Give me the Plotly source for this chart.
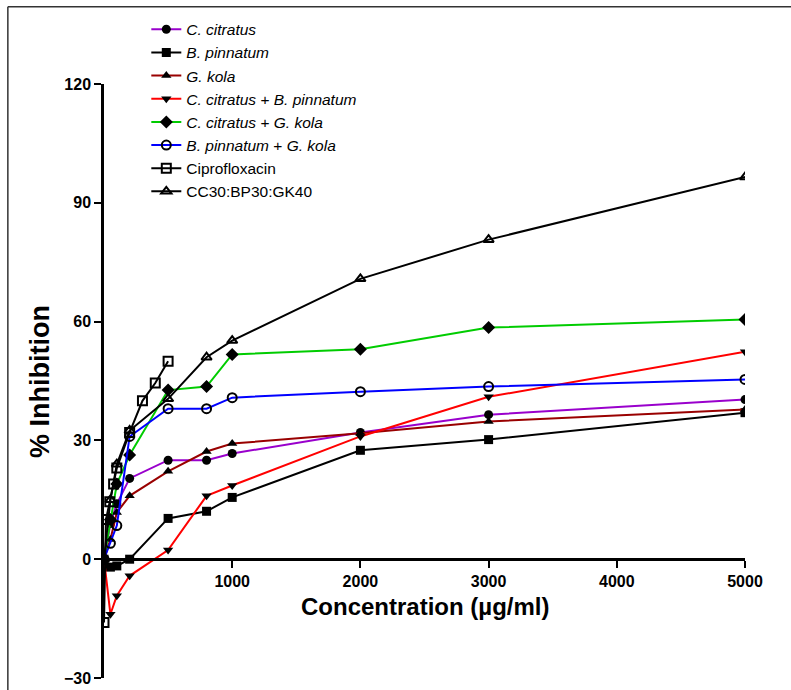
import plotly.graph_objects as go

# concentrations (µg/ml)
conc = [0, 50, 100, 200, 500, 800, 1000, 2000, 3000, 5000]
cipro_conc = [0, 15, 45, 75, 100, 200, 300, 400, 500]

# % inhibition values
c_citratus = [0, 9, 14, 20.4, 25, 25, 26.7, 32, 36.5, 40.3]
b_pinnatum = [0, -2, -1.7, 0, 10.3, 12.1, 15.6, 27.5, 30.2, 37]
g_kola = [0, 5, 11.8, 16, 22.2, 27.2, 29.2, 31.8, 34.8, 37.8]
cc_bp = [0, -13.9, -9.2, -4.2, 2.3, 16, 18.6, 31, 41, 52.4]
cc_gk = [0, 10, 19, 26.3, 42.7, 43.6, 51.7, 53, 58.5, 60.5]
bp_gk = [0, 4, 8.5, 31, 38, 38, 40.8, 42.3, 43.6, 45.4]
cipro = [-16, 10, 14.5, 19, 23, 32, 40, 44.5, 50]
cc_bp_gk = [0, 15, 24, 32.5, 40.5, 51, 55.2, 70.8, 80.7, 96.5]

series = [
    ("<i>C. citratus</i>", conc, c_citratus, "#9900CC", "circle"),
    ("<i>B. pinnatum</i>", conc, b_pinnatum, "#000000", "square"),
    ("<i>G. kola</i>", conc, g_kola, "#990000", "triangle-up"),
    ("<i>C. citratus</i> + <i>B. pinnatum</i>", conc, cc_bp, "#FF0000", "triangle-down"),
    ("<i>C. citratus</i> + <i>G. kola</i>", conc, cc_gk, "#00CC00", "diamond"),
    ("<i>B. pinnatum</i> + <i>G. kola</i>", conc, bp_gk, "#0000FF", "circle-open"),
    ("Ciprofloxacin", cipro_conc, cipro, "#000000", "square-open"),
    ("CC30:BP30:GK40", conc, cc_bp_gk, "#000000", "triangle-up-open"),
]

fig = go.Figure()
for name, xs, ys, col, sym in series:
    open_ = sym.endswith("open")
    fig.add_trace(go.Scatter(
        x=xs, y=ys, name=name, mode="lines+markers",
        line=dict(color=col, width=2),
        marker=dict(symbol=sym, color="#000000", size=9 if not sym.startswith("diamond") else 10,
                    line=dict(color="#000000", width=2 if open_ else 0)),
    ))

font = "Liberation Sans, Arial, sans-serif"
fig.update_layout(
    width=791, height=690,
    margin=dict(l=104, r=46, t=84, b=12, autoexpand=False),
    plot_bgcolor="white", paper_bgcolor="white",
    font=dict(family=font, color="black"),
    showlegend=True,
    legend=dict(x=0.066, y=1.12, xanchor="left", yanchor="top",
                font=dict(size=15.5, family=font), tracegroupgap=0,
                itemwidth=30, bgcolor="rgba(0,0,0,0)"),
    xaxis=dict(range=[0, 5000], tickvals=[1000, 2000, 3000, 4000, 5000],
               showgrid=False, zeroline=False, showline=True, linewidth=2.5,
               linecolor="black", ticks="outside", ticklen=7, tickwidth=2,
               tickcolor="black", anchor="free", position=0.2, automargin=False,
               tickfont=dict(size=16, family=font, weight="bold")),
    yaxis=dict(range=[-30, 120], tickvals=[-30, 0, 30, 60, 90, 120],
               showgrid=False, zeroline=False, showline=True, linewidth=2.5,
               linecolor="black", ticks="outside", ticklen=7, tickwidth=2,
               tickcolor="black", automargin=False,
               tickfont=dict(size=16, family=font, weight="bold")),
)

fig.add_annotation(text="<b>% Inhibition</b>", textangle=-90, xref="paper", yref="paper",
                   x=-0.1, y=0.5, xanchor="center", yanchor="middle", showarrow=False,
                   font=dict(size=27, family=font))
fig.add_annotation(text="<b>Concentration (µg/ml)</b>", xref="paper", yref="paper",
                   x=0.5, y=0.12, xanchor="center", yanchor="middle", showarrow=False,
                   font=dict(size=24, family=font))

# outer frame lines (top and left)
fig.add_shape(type="line", xref="paper", yref="paper", x0=-0.15, x1=1.08, y0=1.13, y1=1.13,
              line=dict(color="#333333", width=1.5))
fig.add_shape(type="line", xref="paper", yref="paper", x0=-0.15, x1=-0.15, y0=1.13, y1=-0.03,
              line=dict(color="#333333", width=1.5))

fig.write_html("out.html", config={"displayModeBar": False},
               post_script="document.body.style.margin='0';document.body.style.overflow='hidden';")
